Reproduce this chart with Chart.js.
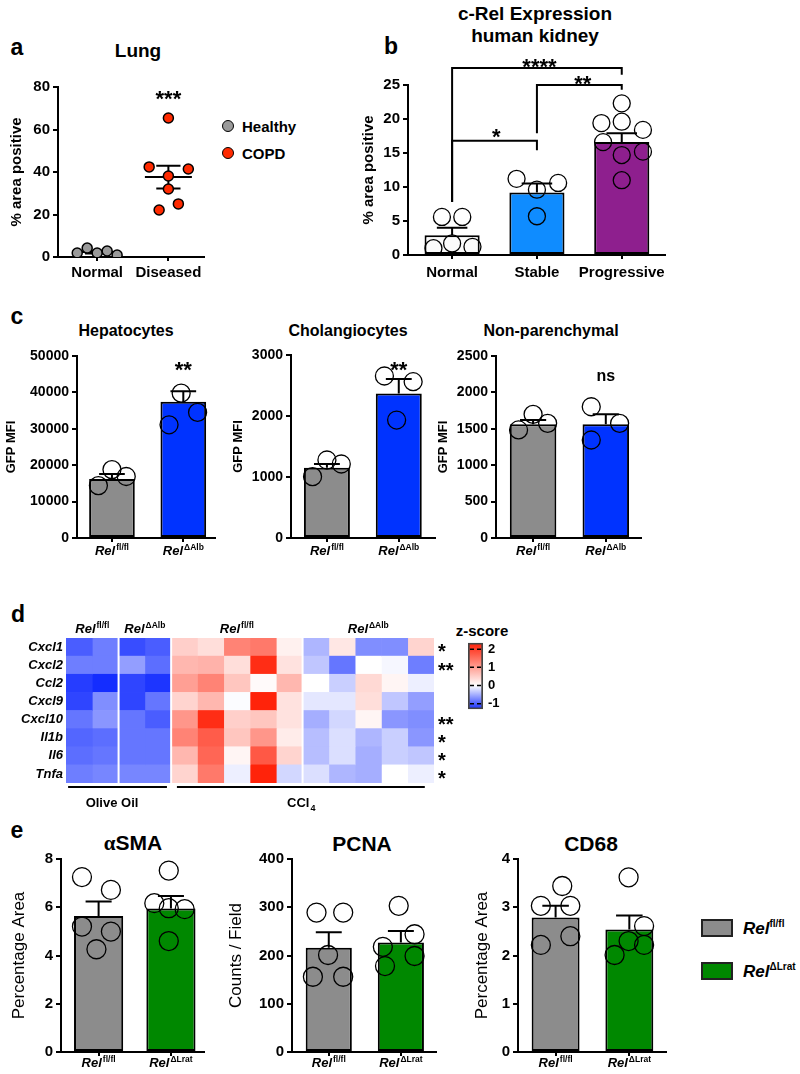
<!DOCTYPE html>
<html lang="en">
<head>
<meta charset="UTF-8">
<title>c-Rel expression panels</title>
<script src="https://cdn.jsdelivr.net/npm/chart.js"></script>
<style>
  html, body { margin: 0; padding: 0; background: #fff; }
  body { position: relative; width: 800px; height: 1074px; overflow: hidden; font-family: Arial, 'Liberation Sans', sans-serif; color: #000; }
  canvas { position: absolute; }
  .txt { position: absolute; font-weight: bold; white-space: nowrap; line-height: 1; transform: translate(-50%, -50%); }
  .letter { font-size: 23px; }
  .title { font-size: 19px; }
  .mid { font-size: 16px; }
  .dot { position: absolute; width: 10px; height: 10px; border-radius: 50%; border: 1.5px solid #000; transform: translate(-50%, -50%); }
  .lgtxt { position: absolute; font-weight: bold; font-size: 15px; line-height: 1; transform: translateY(-50%); }
  .box { position: absolute; width: 28px; height: 14px; border: 2px solid #222; }
  .rel { position: absolute; font-weight: bold; font-style: italic; font-size: 17px; line-height: 1; transform: translateY(-50%); white-space: nowrap; }
  .rel sup { font-size: 10px; font-style: normal; vertical-align: 7px; }
  .serif { font-family: 'Liberation Serif', 'DejaVu Serif', serif; }
</style>
</head>
<body>

<div class="txt letter" style="left:17px;top:47px">a</div>
<div class="txt title" style="left:138px;top:50px">Lung</div>
<div class="dot" style="left:228px;top:126px;background:#9a9a9a"></div>
<div class="lgtxt" style="left:242px;top:126px">Healthy</div>
<div class="dot" style="left:228px;top:153px;background:#ff2a00"></div>
<div class="lgtxt" style="left:242px;top:153px">COPD</div>

<div class="txt letter" style="left:391px;top:46px">b</div>
<div class="txt title" style="left:535px;top:13px">c-Rel Expression</div>
<div class="txt title" style="left:535px;top:35px">human kidney</div>

<div class="txt letter" style="left:17px;top:316px">c</div>
<div class="txt mid" style="left:126px;top:331px">Hepatocytes</div>
<div class="txt mid" style="left:348px;top:331px">Cholangiocytes</div>
<div class="txt mid" style="left:551px;top:331px">Non-parenchymal</div>

<div class="txt letter" style="left:18px;top:614px">d</div>
<div class="txt" style="left:482px;top:630px;font-size:15px">z-score</div>

<div class="txt letter" style="left:17px;top:830px">e</div>
<div class="txt title" style="left:133px;top:843px;font-size:21px"><span class="serif">α</span>SMA</div>
<div class="txt title" style="left:362px;top:843px;font-size:21px">PCNA</div>
<div class="txt title" style="left:591px;top:843px;font-size:21px">CD68</div>
<div class="box" style="left:701px;top:919px;background:#8c8c8c"></div>
<div class="rel" style="left:743px;top:928px">Rel<sup>fl/fl</sup></div>
<div class="box" style="left:701px;top:962px;background:#008800"></div>
<div class="rel" style="left:743px;top:971px">Rel<sup>ΔLrat</sup></div>

<canvas id="ca"></canvas>
<canvas id="cb"></canvas>
<canvas id="cc1"></canvas>
<canvas id="cc2"></canvas>
<canvas id="cc3"></canvas>
<canvas id="cd"></canvas>
<canvas id="cbar"></canvas>
<canvas id="ce1"></canvas>
<canvas id="ce2"></canvas>
<canvas id="ce3"></canvas>

<script>
const FAM = "Arial, 'Liberation Sans', sans-serif";
Chart.defaults.font.family = FAM;
Chart.defaults.color = '#000';
Chart.defaults.animation = false;
Chart.defaults.plugins.legend.display = false;
Chart.defaults.plugins.tooltip.enabled = false;

// ---- a: lung ----
const lungGroups = ['Normal', 'Diseased'];
const lungHealthy = [1.9, 4.2, 1.9, 2.8, 0.9];
const lungHealthyJitter = [-0.28, -0.14, 0, 0.14, 0.28];
const lungCopd = [65.4, 42.4, 41.4, 38.1, 32.0, 22.1, 25.0];
const lungCopdJitter = [0, -0.27, 0.28, 0, 0, -0.13, 0.14];
const lungMean = [2.3, 37.6];
const lungSem = [0.6, 5.4];

// ---- b: kidney ----
const kidneyGroups = ['Normal', 'Stable', 'Progressive'];
const kidneyMeans = [2.9, 9.2, 16.6];
const kidneySem = [1.1, 1.3, 1.3];
const kidneyPoints = [
  [5.6, 5.6, 1.0, 1.7, 1.2],
  [11.2, 10.6, 9.6, 5.7],
  [22.3, 19.4, 19.6, 18.4, 16.6, 14.7, 15.2, 11.0]
];
const kidneyJitter = [
  [-0.12, 0.12, -0.22, 0, 0.24],
  [-0.24, 0.25, 0, 0],
  [0, -0.24, 0, 0.25, -0.22, 0, 0.25, 0]
];

// ---- c: liver cell types ----
const liverGroups = [{ base: 'Rel', sup: 'fl/fl' }, { base: 'Rel', sup: 'ΔAlb' }];
const hepMeans = [16200, 37400];
const hepSem = [1400, 2950];
const hepPoints = [[14400, 18800, 16900], [39800, 31100, 34500]];
const hepJitter = [[-0.19, 0, 0.2], [-0.03, -0.2, 0.2]];
const cholMeans = [1150, 2370];
const cholSem = [65, 235];
const cholPoints = [[1005, 1279, 1213], [2656, 1934, 2562]];
const cholJitter = [[-0.2, 0, 0.2], [-0.2, -0.03, 0.2]];
const npMeans = [1562, 1562];
const npSem = [60, 137];
const npPoints = [[1484, 1699, 1575], [1803, 1346, 1575]];
const npJitter = [[-0.2, 0, 0.2], [-0.2, -0.2, 0.19]];

// ---- d: heatmap ----
const heatGenes = ['Cxcl1', 'Cxcl2', 'Ccl2', 'Cxcl9', 'Cxcl10', 'Il1b', 'Il6', 'Tnfa'];
const heatZ = [
  [-1.0, -0.8, -1.1, -1.0,  0.5, 0.35, 1.3, 1.4, 0.15,  -0.45, 0.25, -0.7, -0.7, 0.45],
  [-0.8, -0.8, -0.6, -0.9,  0.75, 0.8, 0.35, 2.2, 0.3,  -0.35, -0.85, 0.0, -0.05, -0.8],
  [-1.2, -1.3, -1.15, -1.25, 1.0, 1.3, 0.6, 0.05, 0.75,  0.0, -0.3, 0.4, 0.1, -0.1],
  [-1.15, -0.7, -1.15, -0.85, 0.45, 0.75, -0.02, 2.3, 0.3, -0.15, -0.15, 0.35, -0.35, -0.6],
  [-0.85, -0.65, -0.85, -1.0, 1.1, 2.2, 0.5, 0.6, 0.3,  -0.5, -0.25, 0.1, -0.65, -0.7],
  [-0.95, -0.9, -0.85, -0.85, 1.3, 1.7, 0.6, 1.1, 0.2,  -0.4, -0.2, -0.45, -0.3, -0.65],
  [-0.9, -0.85, -0.85, -0.85, 0.75, 1.6, 0.1, 1.75, 0.45, -0.4, -0.2, -0.5, -0.3, -0.35],
  [-0.8, -0.75, -0.75, -0.75, 0.45, 1.4, -0.1, 2.3, -0.25, -0.2, -0.45, -0.5, 0.0, -0.1]
];
const heatStars = ['*', '**', '', '', '**', '*', '*', '*'];
const heatHeaders = [
  { base: 'Rel', sup: 'fl/fl', from: 0, to: 2 },
  { base: 'Rel', sup: 'ΔAlb', from: 2, to: 4 },
  { base: 'Rel', sup: 'fl/fl', from: 4, to: 9 },
  { base: 'Rel', sup: 'ΔAlb', from: 9, to: 14 }
];
const heatSplits = [2, 4, 9];
const zRange = [-1.3, 2.35];
const zTicks = [-1, 0, 1, 2];

// ---- e: fibrosis markers ----
const ratGroups = [{ base: 'Rel', sup: 'fl/fl' }, { base: 'Rel', sup: 'ΔLrat' }];
const smaMeans = [5.64, 5.95];
const smaSem = [0.6, 0.52];
const smaPoints = [[7.25, 6.72, 5.2, 4.99, 4.26], [7.52, 6.17, 5.92, 5.96, 4.6]];
const smaJitter = [[-0.23, 0.17, -0.23, 0.17, -0.03], [-0.03, -0.23, 0.19, -0.03, -0.03]];
const pcnaMeans = [216, 227];
const pcnaSem = [32, 24];
const pcnaPoints = [[289, 289, 201, 156, 156], [303, 244, 199, 218, 178]];
const pcnaJitter = [[-0.17, 0.2, -0.01, -0.22, 0.2], [-0.03, 0.19, 0.19, -0.25, -0.22]];
const cd68Means = [2.79, 2.54];
const cd68Sem = [0.24, 0.29];
const cd68Points = [[3.44, 3.03, 3.03, 2.22, 2.4], [3.62, 2.61, 2.30, 2.01, 2.22]];
const cd68Jitter = [[0.09, -0.2, 0.2, -0.2, 0.2], [-0.01, 0.2, -0.01, -0.2, 0.2]];

// ---------- helpers ----------
function place(id, box) {
  const el = document.getElementById(id);
  el.width = box.w; el.height = box.h;
  el.style.left = box.x + 'px'; el.style.top = box.y + 'px';
  return el;
}
function frame(box) {
  return { yW: box.axisX - box.x, padTop: box.topY - box.y, padRight: box.x + box.w - box.rightX, xH: box.y + box.h - box.zeroY };
}
function yAxis(box, max, step, tickSize, title) {
  const f = frame(box);
  return {
    min: 0, max: max,
    ticks: { stepSize: step, font: { size: tickSize, weight: 'bold' }, color: '#000', padding: 3, callback: v => String(v) },
    grid: { drawOnChartArea: false, tickLength: 5, lineWidth: 2, color: '#000' },
    border: { color: '#000', width: 2 },
    title: { display: true, text: title.text, font: title.font, color: '#000', padding: { top: title.pad, bottom: 0 } },
    afterFit: s => { s.width = f.yW; }
  };
}
function xAxis(box, n, min, max) {
  const f = frame(box);
  return {
    type: 'linear', min: min, max: max, offset: false,
    afterBuildTicks: s => { s.ticks = Array.from({ length: n }, (_, i) => ({ value: i })); },
    ticks: { display: false },
    grid: { offset: false, drawOnChartArea: false, tickLength: 4, lineWidth: 2, color: '#000' },
    border: { color: '#000', width: 2 },
    afterFit: s => { s.height = f.xH; }
  };
}
function drawRich(ctx, x, y, base, sup, size, supSize, italic, dy) {
  const f1 = (italic ? 'italic ' : '') + 'bold ' + size + 'px ' + FAM;
  const f2 = 'bold ' + supSize + 'px ' + FAM;
  ctx.font = f1; const w1 = ctx.measureText(base).width;
  ctx.font = f2; const w2 = sup ? ctx.measureText(sup).width + 1 : 0;
  const x0 = x - (w1 + w2) / 2;
  ctx.textAlign = 'left'; ctx.textBaseline = 'alphabetic'; ctx.fillStyle = '#000';
  ctx.font = f1; ctx.fillText(base, x0, y);
  if (sup) { ctx.font = f2; ctx.fillText(sup, x0 + w1 + 1, y + dy); }
}
function drawMark(ctx, x, y, text, size) {
  ctx.font = 'bold ' + size + 'px ' + FAM;
  ctx.textAlign = 'center'; ctx.textBaseline = 'alphabetic'; ctx.fillStyle = '#000';
  const k = text.indexOf('*') >= 0 ? 0.57 : 0.26;
  ctx.fillText(text, x, y + k * size);
}

function barPanel(id, box, cfg) {
  const el = place(id, box);
  const f = frame(box);
  const pts = [];
  cfg.points.forEach((arr, i) => arr.forEach((v, k) => pts.push({ x: i + cfg.jitter[i][k], y: v })));
  const n = cfg.means.length;
  return new Chart(el, {
    type: 'bar',
    data: {
      datasets: [
        { type: 'scatter', data: pts, pointRadius: cfg.r, pointBackgroundColor: 'rgba(0,0,0,0)',
          pointBorderColor: '#000', pointBorderWidth: 1.3 },
        { type: 'bar', data: cfg.means.map((m, i) => ({ x: i, y: m })), backgroundColor: cfg.colors,
          borderColor: '#000', borderWidth: 2, borderSkipped: false, barPercentage: cfg.barPct, categoryPercentage: 1 }
      ]
    },
    options: {
      responsive: false,
      layout: { padding: { top: f.padTop, right: f.padRight, left: 0, bottom: 0 } },
      scales: {
        x: xAxis(box, n, cfg.xMin, cfg.xMax),
        y: yAxis(box, cfg.yMax, cfg.yStep, cfg.tickSize, cfg.yTitle)
      }
    },
    plugins: [{
      id: 'decor',
      afterDatasetDraw(chart, args) {
        if (args.index !== 1) return;
        const { ctx, scales: { x, y } } = chart;
        ctx.save(); ctx.strokeStyle = '#000'; ctx.lineWidth = 2;
        cfg.means.forEach((m, i) => {
          const cx = x.getPixelForValue(i), y0 = y.getPixelForValue(m), y1 = y.getPixelForValue(m + cfg.sems[i]);
          const hw = x.getPixelForValue(i + 0.18) - cx;
          ctx.beginPath(); ctx.moveTo(cx, y0); ctx.lineTo(cx, y1);
          ctx.moveTo(cx - hw, y1); ctx.lineTo(cx + hw, y1); ctx.stroke();
        });
        ctx.restore();
      },
      afterDraw(chart) {
        const { ctx, scales: { x, y } } = chart;
        ctx.save();
        cfg.labels.forEach((lb, i) => {
          const px = x.getPixelForValue(i), py = y.getPixelForValue(0) + cfg.labelDy;
          if (typeof lb === 'string') drawRich(ctx, px, py, lb, '', 15, 9, false, 0);
          else drawRich(ctx, px, py, lb.base, lb.sup, 13, 8.5, true, -5);
        });
        ctx.strokeStyle = '#000'; ctx.lineWidth = 2;
        (cfg.brackets || []).forEach(b => {
          ctx.beginPath();
          ctx.moveTo(x.getPixelForValue(b.from), y.getPixelForValue(b.leftEnd));
          ctx.lineTo(x.getPixelForValue(b.from), y.getPixelForValue(b.top));
          ctx.lineTo(x.getPixelForValue(b.to), y.getPixelForValue(b.top));
          ctx.lineTo(x.getPixelForValue(b.to), y.getPixelForValue(b.rightEnd));
          ctx.stroke();
        });
        (cfg.marks || []).forEach(m => drawMark(ctx, x.getPixelForValue(m.x), y.getPixelForValue(m.v), m.text, m.size));
        ctx.restore();
      }
    }]
  });
}

// ---------- a ----------
(function () {
  const box = { x: 0, y: 70, w: 215, h: 215, axisX: 58, topY: 87, zeroY: 257, rightX: 204 };
  const el = place('ca', box);
  const f = frame(box);
  new Chart(el, {
    type: 'scatter',
    data: {
      datasets: [
        { data: lungHealthy.map((v, k) => ({ x: 0 + lungHealthyJitter[k], y: v })), pointRadius: 5,
          pointBackgroundColor: '#9a9a9a', pointBorderColor: '#000', pointBorderWidth: 1.5 },
        { data: lungCopd.map((v, k) => ({ x: 1 + lungCopdJitter[k], y: v })), pointRadius: 5,
          pointBackgroundColor: '#ff2a00', pointBorderColor: '#000', pointBorderWidth: 1.5 }
      ]
    },
    options: {
      responsive: false,
      layout: { padding: { top: f.padTop, right: f.padRight, left: 0, bottom: 0 } },
      scales: {
        x: xAxis(box, 2, -0.55, 1.5),
        y: yAxis(box, 80, 20, 15, { text: '% area positive', font: { size: 15, weight: 'bold' }, pad: 7.5 })
      }
    },
    plugins: [{
      id: 'meanSem',
      beforeDatasetsDraw(chart) {
        const { ctx, scales: { x, y } } = chart;
        ctx.save(); ctx.strokeStyle = '#000'; ctx.lineWidth = 2;
        lungMean.forEach((m, i) => {
          const lo = y.getPixelForValue(m - lungSem[i]), hi = y.getPixelForValue(m + lungSem[i]), my = y.getPixelForValue(m);
          ctx.beginPath();
          ctx.moveTo(x.getPixelForValue(i - 0.33), my); ctx.lineTo(x.getPixelForValue(i + 0.33), my);
          ctx.moveTo(x.getPixelForValue(i), lo); ctx.lineTo(x.getPixelForValue(i), hi);
          ctx.moveTo(x.getPixelForValue(i - 0.17), lo); ctx.lineTo(x.getPixelForValue(i + 0.17), lo);
          ctx.moveTo(x.getPixelForValue(i - 0.17), hi); ctx.lineTo(x.getPixelForValue(i + 0.17), hi);
          ctx.stroke();
        });
        ctx.restore();
      },
      afterDraw(chart) {
        const { ctx, scales: { x, y } } = chart;
        ctx.save();
        lungGroups.forEach((g, i) => drawRich(ctx, x.getPixelForValue(i), y.getPixelForValue(0) + 20, g, '', 15, 9, false, 0));
        drawMark(ctx, x.getPixelForValue(1), y.getPixelForValue(77), '***', 22);
        ctx.restore();
      }
    }]
  });
})();

// ---------- b ----------
barPanel('cb', { x: 345, y: 50, w: 330, h: 235, axisX: 408, topY: 85, zeroY: 255, rightX: 665 }, {
  means: kidneyMeans, sems: kidneySem, points: kidneyPoints, jitter: kidneyJitter, r: 8.5,
  colors: ['#fbfbfb', '#0f8cff', '#8e1f8e'], barPct: 0.65, xMin: -0.52, xMax: 2.51,
  yMax: 25, yStep: 5, tickSize: 15, labels: kidneyGroups, labelDy: 22,
  yTitle: { text: '% area positive', font: { size: 15, weight: 'bold' }, pad: 14.5 },
  brackets: [
    { from: 0, to: 2, top: 27.5, leftEnd: 7.8, rightEnd: 26.5 },
    { from: 1, to: 2, top: 25, leftEnd: 17.9, rightEnd: 24.3 },
    { from: 0, to: 1, top: 16.8, leftEnd: 7.8, rightEnd: 15.4 }
  ],
  marks: [
    { x: 1.03, v: 28.5, text: '****', size: 22 },
    { x: 1.54, v: 25.9, text: '**', size: 22 },
    { x: 0.52, v: 18.1, text: '*', size: 22 }
  ]
});

// ---------- c ----------
const gfpTitle = pad => ({ text: 'GFP MFI', font: { size: 13, weight: 'bold' }, pad: pad });
barPanel('cc1', { x: 0, y: 340, w: 225, h: 225, axisX: 77, topY: 356, zeroY: 538, rightX: 218 }, {
  means: hepMeans, sems: hepSem, points: hepPoints, jitter: hepJitter, r: 9,
  colors: ['#8c8c8c', '#0033ff'], barPct: 0.64, xMin: -0.49, xMax: 1.44,
  yMax: 50000, yStep: 10000, tickSize: 14, labels: liverGroups, labelDy: 17,
  yTitle: gfpTitle(3.7), marks: [{ x: 1, v: 47800, text: '**', size: 22 }]
});
barPanel('cc2', { x: 228, y: 340, w: 217, h: 225, axisX: 291, topY: 355, zeroY: 538, rightX: 435 }, {
  means: cholMeans, sems: cholSem, points: cholPoints, jitter: cholJitter, r: 9,
  colors: ['#8c8c8c', '#0033ff'], barPct: 0.64, xMin: -0.5, xMax: 1.5,
  yMax: 3000, yStep: 1000, tickSize: 14, labels: liverGroups, labelDy: 17,
  yTitle: gfpTitle(2.2), marks: [{ x: 1, v: 2852, text: '**', size: 22 }]
});
barPanel('cc3', { x: 432, y: 340, w: 219, h: 225, axisX: 496, topY: 356, zeroY: 538, rightX: 641 }, {
  means: npMeans, sems: npSem, points: npPoints, jitter: npJitter, r: 9,
  colors: ['#8c8c8c', '#0033ff'], barPct: 0.64, xMin: -0.51, xMax: 1.48,
  yMax: 2500, yStep: 500, tickSize: 14, labels: liverGroups, labelDy: 17,
  yTitle: gfpTitle(3.2), marks: [{ x: 1, v: 2211, text: 'ns', size: 16 }]
});

// ---------- d ----------
function zColor(v) {
  const blue = [20, 45, 255], red = [255, 35, 10];
  const t = v >= 0 ? Math.min(v / 2.3, 1) : Math.min(-v / 1.3, 1);
  const c = v >= 0 ? red : blue;
  const mix = k => Math.round(255 + (c[k] - 255) * t);
  return 'rgb(' + mix(0) + ',' + mix(1) + ',' + mix(2) + ')';
}
(function () {
  const box = { x: 0, y: 610, w: 460, h: 205 };
  const el = place('cd', box);
  const nCols = heatZ[0].length;
  const datasets = [];
  for (let j = 0; j < nCols; j++) {
    datasets.push({
      data: heatGenes.map(() => [j, j + 1]),
      backgroundColor: heatGenes.map((g, r) => zColor(heatZ[r][j])),
      borderWidth: 0, barPercentage: 1, categoryPercentage: 1, grouped: false
    });
  }
  new Chart(el, {
    type: 'bar',
    data: { labels: heatGenes, datasets: datasets },
    options: {
      responsive: false, indexAxis: 'y',
      layout: { padding: { top: 28, right: 26, bottom: 32, left: 0 } },
      scales: {
        x: { type: 'linear', min: 0, max: nCols, display: false },
        y: {
          ticks: { font: { size: 13, weight: 'bold', style: 'italic' }, color: '#000', padding: 3, autoSkip: false },
          grid: { display: false, drawTicks: false }, border: { display: false },
          afterFit: s => { s.width = 66; }
        }
      }
    },
    plugins: [{
      id: 'heatDecor',
      afterDatasetsDraw(chart) {
        const { ctx, chartArea: a, scales: { x } } = chart;
        ctx.save(); ctx.strokeStyle = '#fff'; ctx.lineWidth = 2;
        heatSplits.forEach(c => {
          const px = x.getPixelForValue(c);
          ctx.beginPath(); ctx.moveTo(px, a.top); ctx.lineTo(px, a.bottom); ctx.stroke();
        });
        ctx.restore();
      },
      afterDraw(chart) {
        const { ctx, chartArea: a, scales: { x, y } } = chart;
        ctx.save();
        heatHeaders.forEach(h => drawRich(ctx, x.getPixelForValue((h.from + h.to) / 2), a.top - 5, h.base, h.sup, 13, 8.5, true, -5));
        ctx.strokeStyle = '#000'; ctx.lineWidth = 2;
        ctx.beginPath();
        ctx.moveTo(x.getPixelForValue(0.08), a.bottom + 4); ctx.lineTo(x.getPixelForValue(3.84), a.bottom + 4);
        ctx.moveTo(x.getPixelForValue(4.22), a.bottom + 4); ctx.lineTo(x.getPixelForValue(13.65), a.bottom + 4);
        ctx.stroke();
        drawRich(ctx, x.getPixelForValue(1.75), a.bottom + 24, 'Olive Oil', '', 13, 9, false, 0);
        drawRich(ctx, x.getPixelForValue(8.95), a.bottom + 24, 'CCl', '4', 13, 9, false, 4);
        ctx.font = 'bold 20px ' + FAM; ctx.textAlign = 'left'; ctx.textBaseline = 'alphabetic'; ctx.fillStyle = '#000';
        heatStars.forEach((s, r) => { if (s) ctx.fillText(s, x.getPixelForValue(nCols) + 4, y.getPixelForValue(r) + 11.4); });
        ctx.restore();
      }
    }]
  });
})();

// colour bar
(function () {
  const box = { x: 458, y: 630, w: 60, h: 92 };
  const el = place('cbar', box);
  new Chart(el, {
    type: 'bar',
    data: {
      labels: ['z'],
      datasets: [{
        data: [zRange],
        backgroundColor: c => {
          const ch = c.chart;
          if (!ch.chartArea) return '#fff';
          const ys = ch.scales.y;
          const g = ch.ctx.createLinearGradient(0, ys.getPixelForValue(zRange[0]), 0, ys.getPixelForValue(zRange[1]));
          for (let k = 0; k <= 30; k++) {
            const v = zRange[0] + (zRange[1] - zRange[0]) * k / 30;
            g.addColorStop(k / 30, zColor(v));
          }
          return g;
        },
        borderColor: '#444', borderWidth: 2, borderSkipped: false, barPercentage: 1, categoryPercentage: 1
      }]
    },
    options: {
      responsive: false,
      layout: { padding: { top: 9, bottom: 11, left: 10, right: 0 } },
      scales: {
        x: { display: false },
        y: {
          position: 'right', min: zRange[0], max: zRange[1],
          afterBuildTicks: s => { s.ticks = zTicks.map(v => ({ value: v })); },
          ticks: { font: { size: 13, weight: 'bold' }, color: '#000', padding: 5 },
          grid: { display: false, drawTicks: false }, border: { display: false },
          afterFit: s => { s.width = 35; }
        }
      }
    },
    plugins: [{
      id: 'cbTicks',
      afterDatasetsDraw(chart) {
        const { ctx, chartArea: a, scales: { y } } = chart;
        ctx.save(); ctx.strokeStyle = '#000'; ctx.lineWidth = 1.5;
        zTicks.forEach(v => {
          const py = y.getPixelForValue(v);
          ctx.beginPath();
          ctx.moveTo(a.left + 2, py); ctx.lineTo(a.left + 6, py);
          ctx.moveTo(a.right - 6, py); ctx.lineTo(a.right - 2, py);
          ctx.stroke();
        });
        ctx.restore();
      }
    }]
  });
})();

// ---------- e ----------
const areaTitle = pad => ({ text: 'Percentage Area', font: { size: 17, weight: 'normal' }, pad: pad });
barPanel('ce1', { x: 0, y: 845, w: 215, h: 229, axisX: 61, topY: 859, zeroY: 1052, rightX: 208 }, {
  means: smaMeans, sems: smaSem, points: smaPoints, jitter: smaJitter, r: 9.5,
  colors: ['#8c8c8c', '#008800'], barPct: 0.68, xMin: -0.52, xMax: 1.46,
  yMax: 8, yStep: 2, tickSize: 15, labels: ratGroups, labelDy: 15,
  yTitle: areaTitle(8.8)
});
barPanel('ce2', { x: 225, y: 845, w: 222, h: 229, axisX: 292, topY: 859, zeroY: 1052, rightX: 442 }, {
  means: pcnaMeans, sems: pcnaSem, points: pcnaPoints, jitter: pcnaJitter, r: 9.5,
  colors: ['#8c8c8c', '#008800'], barPct: 0.64, xMin: -0.51, xMax: 1.49,
  yMax: 400, yStep: 100, tickSize: 15, labels: ratGroups, labelDy: 15,
  yTitle: { text: 'Counts / Field', font: { size: 17, weight: 'normal' }, pad: 1 }
});
barPanel('ce3', { x: 455, y: 845, w: 222, h: 229, axisX: 518, topY: 859, zeroY: 1052, rightX: 667 }, {
  means: cd68Means, sems: cd68Sem, points: cd68Points, jitter: cd68Jitter, r: 9.5,
  colors: ['#8c8c8c', '#008800'], barPct: 0.65, xMin: -0.51, xMax: 1.5,
  yMax: 4, yStep: 1, tickSize: 15, labels: ratGroups, labelDy: 15,
  yTitle: areaTitle(16.8)
});
</script>
</body>
</html>
